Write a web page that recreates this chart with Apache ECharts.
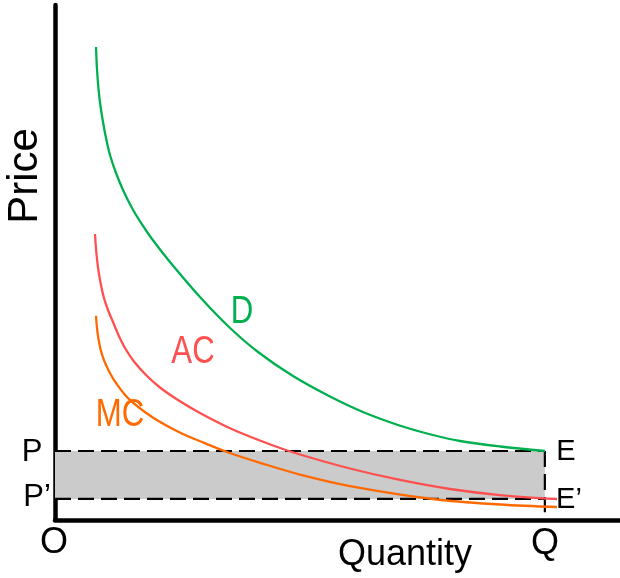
<!DOCTYPE html>
<html>
<head>
<meta charset="utf-8">
<script src="https://cdn.jsdelivr.net/npm/echarts@6/dist/echarts.min.js"></script>
<style>html,body{margin:0;padding:0;background:#fff}#c{width:620px;height:578px}</style>
</head>
<body>
<div id="c"></div>
<script>
// Demand curve D
const dX = [7.26, 7.43, 7.70, 8.05, 8.50, 9.03, 9.73, 10.80, 12.04, 13.63, 15.40, 17.17, 20.35, 25.66, 30.80, 35.93, 42.12, 48.50, 54.51, 60.71, 66.19, 71.68, 78.76, 86.73];
const dY = [91.84, 87.57, 83.69, 80.39, 77.28, 74.17, 70.87, 67.38, 64.08, 60.58, 57.38, 54.56, 50.10, 43.30, 37.48, 32.62, 27.96, 24.08, 20.97, 18.45, 16.70, 15.34, 14.27, 13.40];
// Average cost AC
const acX = [7.08, 7.22, 7.43, 7.73, 8.14, 8.67, 9.38, 10.27, 11.15, 12.39, 13.98, 16.11, 18.58, 21.77, 25.66, 31.27, 38.35, 43.06, 52.21, 61.06, 69.91, 78.76, 88.85];
const acY = [55.53, 53.20, 50.68, 48.16, 45.63, 43.11, 40.78, 38.45, 36.12, 33.40, 30.78, 28.16, 25.73, 23.30, 20.78, 17.67, 14.56, 12.82, 10.00, 7.77, 6.02, 4.85, 4.08];
// Marginal cost MC
const mcX = [7.26, 7.43, 7.70, 8.05, 8.50, 9.03, 9.73, 10.62, 12.97, 17.12, 21.82, 26.55, 30.67, 36.58, 43.36, 52.21, 66.90, 78.76, 88.85];
const mcY = [39.67, 37.28, 35.15, 33.20, 31.55, 30.10, 28.54, 26.89, 23.63, 20.06, 17.15, 14.89, 13.11, 11.01, 8.83, 6.60, 4.08, 3.01, 2.52];
// Key levels
const priceP = 13.4;
const priceP2 = 4.1;
const qtyQ = 86.7;
const dropEnd = 1.5;

const zip = (xs, ys) => xs.map((x, i) => [x, ys[i]]);
const GREEN = '#00b050', RED = '#ff5050', ORANGE = '#ff6a00';
const FONT = '"Liberation Sans", Arial, sans-serif';

const chart = echarts.init(document.getElementById('c'));
function txt(t, x, y, size, color, extra) {
  return Object.assign({
    type: 'text', x: x, y: y,
    style: { text: t, font: size + 'px ' + FONT, fill: color, textAlign: 'center', textVerticalAlign: 'middle' }
  }, extra || {});
}
const dash = { color: '#000', width: 2.2, type: [16, 7] };
chart.setOption({
  animation: false,
  grid: { left: 55, right: 0, top: 5, bottom: 58 },
  xAxis: { type: 'value', min: 0, max: 100, axisLine: { lineStyle: { color: '#000', width: 4.5 } },
    axisTick: { show: false }, axisLabel: { show: false }, splitLine: { show: false } },
  yAxis: { type: 'value', min: 0, max: 100, axisLine: { lineStyle: { color: '#000', width: 4.5 } },
    axisTick: { show: false }, axisLabel: { show: false }, splitLine: { show: false } },
  series: [
    { type: 'line', data: [], markArea: { silent: true, itemStyle: { color: '#cbcbcb' },
        data: [[{ coord: [0, priceP2] }, { coord: [qtyQ, priceP] }]] } },
    { type: 'line', data: [[0, priceP], [qtyQ, priceP]], showSymbol: false, lineStyle: dash },
    { type: 'line', data: [[0, priceP2], [qtyQ, priceP2]], showSymbol: false, lineStyle: dash },
    { type: 'line', data: [[qtyQ, priceP], [qtyQ, dropEnd]], showSymbol: false, lineStyle: dash },
    { type: 'line', data: zip(mcX, mcY), smooth: 0.35, showSymbol: false, lineStyle: { color: ORANGE, width: 2.3 } },
    { type: 'line', data: zip(acX, acY), smooth: 0.35, showSymbol: false, lineStyle: { color: RED, width: 2.3 } },
    { type: 'line', data: zip(dX, dY), smooth: 0.35, showSymbol: false, lineStyle: { color: GREEN, width: 2.3 } }
  ],
  graphic: [
    txt('Price', 25, 176, 42, '#000', { rotation: Math.PI / 2 }),
    txt('Quantity', 405, 555, 36, '#000'),
    txt('O', 54, 543, 36, '#000'),
    txt('Q', 545, 544, 36, '#000'),
    txt('P', 32, 452, 31, '#000'),
    txt('P\u2019', 37, 497, 31, '#000'),
    txt('E', 566, 452, 29, '#000'),
    txt('E\u2019', 569, 500, 29, '#000'),
    txt('D', 242, 313, 38, GREEN, { scaleX: 0.82 }),
    txt('AC', 193, 353, 38, RED, { scaleX: 0.82 }),
    txt('MC', 120, 416, 38, ORANGE, { scaleX: 0.82 })
  ]
});
</script>
</body>
</html>
